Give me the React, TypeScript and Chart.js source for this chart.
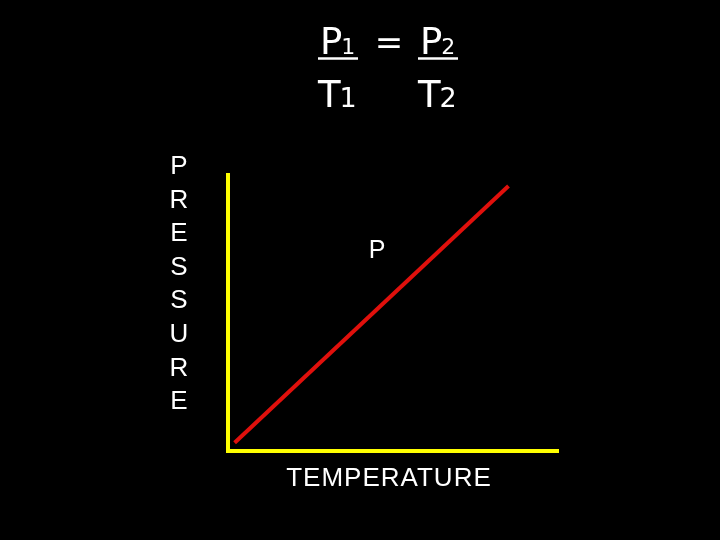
import React, { useEffect, useRef } from 'react';
import { Chart, registerables } from 'chart.js';

Chart.register(...registerables);

// Line end points (temperature vs pressure, arbitrary 0-100 units)
const temperature = [2, 85];
const pressure = [3, 96];

// Texts
const pressureLetters = ['P', 'R', 'E', 'S', 'S', 'U', 'R', 'E'];
const xTitle = 'TEMPERATURE';
const lineLabel = 'P';
const numerators = [['P', '1'], ['P', '2']];
const denominators = [['T', '1'], ['T', '2']];
const equalsSign = '=';

const AXIS_YELLOW = '#ffff00';
const LINE_RED = '#e0100c';

// Draws the formula, the stacked y label, the line label and the x title
const textPlugin = {
  id: 'gasLawText',
  beforeDraw(chart: Chart) {
    const { ctx, width, height } = chart;
    ctx.save();
    ctx.fillStyle = '#000';
    ctx.fillRect(0, 0, width, height);
    ctx.restore();
  },
  afterDraw(chart: Chart) {
    const { ctx } = chart;
    ctx.save();
    ctx.fillStyle = '#fff';
    ctx.strokeStyle = '#fff';
    ctx.textBaseline = 'alphabetic';

    // formula P1/T1 = P2/T2
    const fracX = [322, 422];
    numerators.forEach(([main, sub], i) => {
      ctx.textAlign = 'left';
      ctx.font = '37px "DejaVu Sans"';
      ctx.fillText(main, fracX[i] - 2, 54);
      const w = ctx.measureText(main).width;
      ctx.font = '22px "DejaVu Sans"';
      ctx.fillText(sub, fracX[i] - 2 + w - 1, 54);
      ctx.lineWidth = 2.5;
      ctx.beginPath();
      ctx.moveTo(fracX[i] - 4, 58.5);
      ctx.lineTo(fracX[i] + 36, 58.5);
      ctx.stroke();
    });
    denominators.forEach(([main, sub], i) => {
      ctx.textAlign = 'left';
      ctx.font = '37px "DejaVu Sans"';
      ctx.fillText(main, fracX[i] - 4, 107);
      const w = ctx.measureText(main).width;
      ctx.font = '27px "DejaVu Sans"';
      ctx.fillText(sub, fracX[i] - 4 + w - 1, 107);
    });
    ctx.textAlign = 'center';
    ctx.font = '34px "DejaVu Sans"';
    ctx.fillText(equalsSign, 389, 54);

    // stacked PRESSURE
    ctx.font = '26px "Liberation Sans"';
    pressureLetters.forEach((ch, i) => {
      ctx.fillText(ch, 179, 174 + i * 33.6);
    });

    // label next to the line
    ctx.font = '25px "Liberation Sans"';
    ctx.fillText(lineLabel, 377, 258);

    // x title
    ctx.font = '26px "Liberation Sans"';
    (ctx as any).letterSpacing = '1px';
    ctx.fillText(xTitle, 389, 486);
    ctx.restore();
  }
};

const App: React.FC = () => {
  const canvasRef = useRef<HTMLCanvasElement>(null);
  const chartRef = useRef<Chart | null>(null);

  useEffect(() => {
    const ctx = canvasRef.current?.getContext('2d');
    if (!ctx) return;

    if (chartRef.current) {
      chartRef.current.destroy();
    }

    chartRef.current = new Chart(ctx, {
      type: 'line',
      data: {
        datasets: [
          {
            label: 'P',
            data: temperature.map((t, i) => ({ x: t, y: pressure[i] })),
            borderColor: LINE_RED,
            borderWidth: 4,
            pointRadius: 0,
            fill: false,
            tension: 0
          }
        ]
      },
      options: {
        responsive: false,
        animation: false,
        devicePixelRatio: 1,
        layout: {
          padding: { left: 220, top: 175, right: 162, bottom: 81 }
        },
        plugins: {
          legend: { display: false },
          tooltip: { enabled: false }
        },
        scales: {
          x: {
            type: 'linear',
            min: 0,
            max: 100,
            grid: { display: false },
            ticks: { display: false },
            border: { display: true, color: AXIS_YELLOW, width: 4 }
          },
          y: {
            type: 'linear',
            min: 0,
            max: 100,
            grid: { display: false },
            ticks: { display: false },
            border: { display: true, color: AXIS_YELLOW, width: 4 }
          }
        }
      },
      plugins: [textPlugin]
    });

    return () => {
      if (chartRef.current) {
        chartRef.current.destroy();
        chartRef.current = null;
      }
    };
  }, []);

  return (
    <div
      style={{
        position: 'fixed',
        top: 0,
        left: 0,
        width: 720,
        height: 540,
        background: '#000',
        overflow: 'hidden'
      }}
    >
      <canvas ref={canvasRef} width={720} height={540} />
    </div>
  );
};

export default App;
